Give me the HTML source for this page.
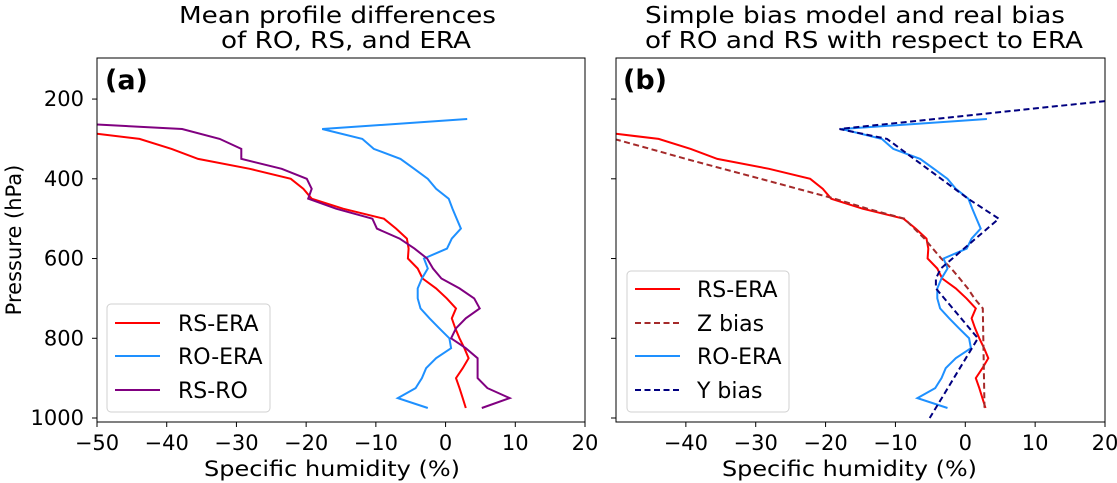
<!DOCTYPE html>
<html><head><meta charset="utf-8"><style>
html,body{margin:0;padding:0;background:#fff;}
svg{display:block;font-family:"DejaVu Sans","Liberation Sans",sans-serif;}
</style></head><body>
<svg id="fig" width="1117" height="483" viewBox="0 0 1117 483">
<defs>
<clipPath id="clipA"><rect x="97" y="58" width="488" height="364"/></clipPath>
<clipPath id="clipB"><rect x="616" y="58" width="489" height="364"/></clipPath>
</defs>
<g id="root"></g>
</svg>
<script>
const levels = [250,275,300,325,350,375,400,425,450,475,500,525,550,575,600,625,650,675,700,725,750,775,800,825,850,875,900,925,950,975];
const rsEra = [null,-55.7,-43.9,-39.3,-35.5,-28.1,-22.2,-20.4,-19.2,-14.7,-8.85,-7.1,-5.55,-5.3,-5.4,-4.0,-3.3,-1.36,0.17,1.5,0.9,1.4,2.0,2.7,3.3,2.45,1.5,2.0,2.45,2.9];
const roEra = [3.1,-17.7,-11.95,-10.3,-6.46,-4.5,-2.55,-1.36,0.45,1.0,1.6,2.2,0.9,0.2,-3.1,-2.55,-3.4,-4.0,-4.0,-3.6,-2.3,-0.9,0.55,0.8,-1.36,-2.8,-3.4,-4.3,-6.85,-2.55];
const rsRo = [-64.8,-37.8,-32.4,-29.3,-29.3,-23.5,-19.9,-19.2,-19.7,-15.7,-10.5,-9.85,-6.6,-4.45,-2.65,-1.8,-0.6,2.0,4.1,4.9,2.9,1.5,0.8,2.9,4.6,4.6,4.6,6.0,9.2,5.2];
const zLevels = [275,300,325,350,375,400,425,450,475,500,525,550,575,600,625,650,675,700,725,975];
const zBias = [-55.4,-50.3,-45.1,-40.0,-34.7,-29.3,-24.0,-18.7,-14.0,-8.7,-7.3,-5.85,-4.65,-3.45,-2.0,-0.8,0.36,1.3,2.5,2.75];
const yLevels = [200,275,300,450,500,625,650,675,800,1000];
const yBias = [22.7,-18.0,-11.2,0.4,4.8,-3.5,-4.2,-4.2,1.8,-5.1];
const xTicksA = [-50,-40,-30,-20,-10,0,10,20];
const xTicksB = [-40,-30,-20,-10,0,10,20];
const yTicks = [200,400,600,800,1000];

const NS="http://www.w3.org/2000/svg";
const root=document.getElementById('root');
function mk(tag,attrs,parent){const e=document.createElementNS(NS,tag);for(const k in attrs)e.setAttribute(k,attrs[k]);(parent||root).appendChild(e);return e;}
const X0=-50,X1=20,P0=97,P1=1010,TOP=58,BOT=422;
function yScale(p){return TOP+(p-P0)/(P1-P0)*(BOT-TOP);}
function makeX(left,right){return v=>left+(v-X0)/(X1-X0)*(right-left);}
function line(xs,ys,xf,color,dash,clip,name){
  let d='';let pen=false;
  for(let i=0;i<xs.length;i++){if(xs[i]===null){pen=false;continue;}
    d+=(pen?'L':'M')+xf(xs[i]).toFixed(1)+','+yScale(ys[i]).toFixed(1);pen=true;}
  const p=mk('path',{d:d,fill:'none',stroke:color,'stroke-width':2,'clip-path':'url(#'+clip+')'});
  if(dash)p.setAttribute('stroke-dasharray',dash);
  
  
}
function axes(left,right,clip,xt,showY,id){
  const xf=makeX(left,right);
  const g=mk('g',{});
  
  
  xt.forEach(v=>{
    const x=xf(v);
    mk('line',{x1:x,x2:x,y1:BOT,y2:BOT+5,stroke:'#000','stroke-width':1},g);
    const t=mk('text',{x:x,y:450,'font-size':21,'text-anchor':'middle',fill:'#000'},g);
    t.textContent=(v<0?'\u2212'+(-v):''+v);
    
    
  });
  yTicks.forEach(p=>{
    const y=yScale(p);
    mk('line',{x1:left-5,x2:left,y1:y,y2:y,stroke:'#000','stroke-width':1},g);
    if(showY){const t=mk('text',{x:84,y:y+7,'font-size':21,'text-anchor':'end',fill:'#000'},g);
      t.textContent=''+p;
      
      }
  });
  return xf;
}
const xa=axes(97,585,'clipA',xTicksA,true,'a');
const xb=axes(616,1105,'clipB',xTicksB,false,'b');

line(rsEra,levels,xa,'#ff0000',null,'clipA','rs-era-line-a');
line(roEra,levels,xa,'#1e90ff',null,'clipA','ro-era-line-a');
line(rsRo,levels,xa,'#800080',null,'clipA','rs-ro-line-a');

line(rsEra,levels,xb,'#ff0000',null,'clipB','rs-era-line-b');
line(zBias,zLevels,xb,'#a52a2a','6,3.5','clipB','z-bias-line');
line(roEra,levels,xb,'#1e90ff',null,'clipB','ro-era-line-b');
line(yBias,yLevels,xb,'#000080','6,3.5','clipB','y-bias-line');
</script>
<script>
(function(){
const svg=document.getElementById('fig');
function add(html){svg.insertAdjacentHTML('beforeend',html);}
add('<rect x="97" y="58" width="488" height="364" fill="none" stroke="#000" stroke-width="1"/>');
add('<rect x="616" y="58" width="489" height="364" fill="none" stroke="#000" stroke-width="1"/>');
add('<text x="179" y="23" font-size="23" textLength="317" lengthAdjust="spacingAndGlyphs">Mean profile differences</text>');
add('<text x="221" y="48" font-size="23" textLength="250" lengthAdjust="spacingAndGlyphs">of RO, RS, and ERA</text>');
add('<text x="645" y="23" font-size="23" textLength="420" lengthAdjust="spacingAndGlyphs">Simple bias model and real bias</text>');
add('<text x="645" y="48" font-size="23" textLength="438" lengthAdjust="spacingAndGlyphs">of RO and RS with respect to ERA</text>');
add('<text x="105" y="89" font-size="27" font-weight="bold">(a)</text>');
add('<text x="623" y="89" font-size="27" font-weight="bold">(b)</text>');
add('<text x="204" y="476" font-size="21" textLength="256" lengthAdjust="spacingAndGlyphs">Specific humidity (%)</text>');
add('<text x="722" y="476" font-size="21" textLength="255" lengthAdjust="spacingAndGlyphs">Specific humidity (%)</text>');
add('<text transform="translate(21,240) rotate(-90)" font-size="21" text-anchor="middle">Pressure (hPa)</text>');
add('<g><rect x="107" y="304" width="163" height="108" rx="4" fill="#fff" fill-opacity="0.8" stroke="#d0d0d0"/>'+
'<line x1="115" x2="160" y1="323" y2="323" stroke="#ff0000" stroke-width="2"/><text x="178" y="331" font-size="22">RS-ERA</text>'+
'<line x1="115" x2="160" y1="356" y2="356" stroke="#1e90ff" stroke-width="2"/><text x="178" y="364" font-size="22">RO-ERA</text>'+
'<line x1="115" x2="160" y1="390" y2="390" stroke="#800080" stroke-width="2"/><text x="178" y="398" font-size="22">RS-RO</text></g>');
add('<g><rect x="627" y="271" width="162" height="141" rx="4" fill="#fff" fill-opacity="0.8" stroke="#d0d0d0"/>'+
'<line x1="635" x2="680" y1="289" y2="289" stroke="#ff0000" stroke-width="2"/><text x="697" y="297" font-size="22">RS-ERA</text>'+
'<line x1="635" x2="680" y1="323" y2="323" stroke="#a52a2a" stroke-width="2" stroke-dasharray="6,3.5"/><text x="697" y="331" font-size="22">Z bias</text>'+
'<line x1="635" x2="680" y1="356" y2="356" stroke="#1e90ff" stroke-width="2"/><text x="697" y="364" font-size="22">RO-ERA</text>'+
'<line x1="635" x2="680" y1="390" y2="390" stroke="#000080" stroke-width="2" stroke-dasharray="6,3.5"/><text x="697" y="398" font-size="22">Y bias</text></g>');
})();
</script>
</body></html>
